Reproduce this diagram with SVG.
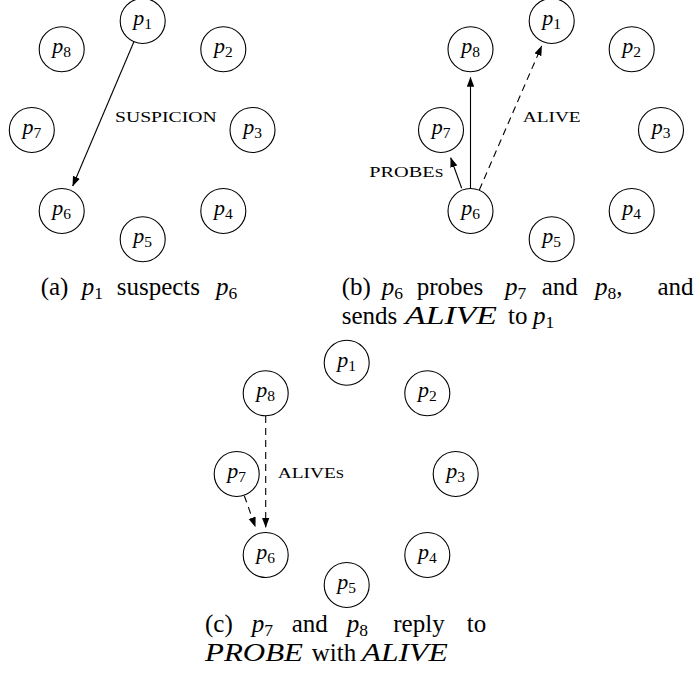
<svg xmlns="http://www.w3.org/2000/svg" width="696" height="680" viewBox="0 0 696 680">
<style>
.nd circle{fill:#fff;stroke:#000;stroke-width:1.1}
.lab{font-family:"Liberation Serif",serif;font-size:22px;fill:#000;text-anchor:middle}
.lab .v{font-style:italic}
.lab .s{font-size:15.5px}
.ed{fill:none;stroke:#000;stroke-width:1.1}
.da{stroke-dasharray:7 5}
.msg{font-family:"Liberation Serif",serif;font-size:15px;fill:#000}
.msg .sc{font-size:11.5px}
.cap{font-family:"Liberation Serif",serif;font-size:25px;fill:#000}
.cap .v,.mi{font-style:italic}
.cap .s{font-size:17.5px;font-style:normal}
</style>
<defs>
<marker id="ah" markerUnits="userSpaceOnUse" markerWidth="10" markerHeight="8" refX="9.5" refY="4" orient="auto" viewBox="0 0 10 8">
<path d="M0,0.3 L10,4 L0,7.7 Z" fill="#000"/>
</marker>
</defs>

<!-- Panel (a) -->
<g id="a-p1" class="nd"><circle cx="142.7" cy="21" r="22.5"/><text class="lab" x="142.7" y="25"><tspan class="v">p</tspan><tspan class="s" dy="4">1</tspan></text></g>
<g id="a-p2" class="nd"><circle cx="223.3" cy="49.3" r="22.5"/><text class="lab" x="223.3" y="53.3"><tspan class="v">p</tspan><tspan class="s" dy="4">2</tspan></text></g>
<g id="a-p3" class="nd"><circle cx="252.5" cy="130" r="22.5"/><text class="lab" x="252.5" y="134"><tspan class="v">p</tspan><tspan class="s" dy="4">3</tspan></text></g>
<g id="a-p4" class="nd"><circle cx="223.3" cy="211" r="22.5"/><text class="lab" x="223.3" y="215"><tspan class="v">p</tspan><tspan class="s" dy="4">4</tspan></text></g>
<g id="a-p5" class="nd"><circle cx="142.7" cy="239.3" r="22.5"/><text class="lab" x="142.7" y="243.3"><tspan class="v">p</tspan><tspan class="s" dy="4">5</tspan></text></g>
<g id="a-p6" class="nd"><circle cx="61.7" cy="211" r="22.5"/><text class="lab" x="61.7" y="215"><tspan class="v">p</tspan><tspan class="s" dy="4">6</tspan></text></g>
<g id="a-p7" class="nd"><circle cx="31.8" cy="130" r="22.5"/><text class="lab" x="31.8" y="134"><tspan class="v">p</tspan><tspan class="s" dy="4">7</tspan></text></g>
<g id="a-p8" class="nd"><circle cx="61.7" cy="49.3" r="22.5"/><text class="lab" x="61.7" y="53.3"><tspan class="v">p</tspan><tspan class="s" dy="4">8</tspan></text></g>

<!-- Panel (b) -->
<g id="b-p1" class="nd"><circle cx="551.7" cy="21" r="22.5"/><text class="lab" x="551.7" y="25"><tspan class="v">p</tspan><tspan class="s" dy="4">1</tspan></text></g>
<g id="b-p2" class="nd"><circle cx="631.7" cy="49.3" r="22.5"/><text class="lab" x="631.7" y="53.3"><tspan class="v">p</tspan><tspan class="s" dy="4">2</tspan></text></g>
<g id="b-p3" class="nd"><circle cx="661" cy="130" r="22.5"/><text class="lab" x="661" y="134"><tspan class="v">p</tspan><tspan class="s" dy="4">3</tspan></text></g>
<g id="b-p4" class="nd"><circle cx="631.7" cy="211" r="22.5"/><text class="lab" x="631.7" y="215"><tspan class="v">p</tspan><tspan class="s" dy="4">4</tspan></text></g>
<g id="b-p5" class="nd"><circle cx="551.7" cy="239.3" r="22.5"/><text class="lab" x="551.7" y="243.3"><tspan class="v">p</tspan><tspan class="s" dy="4">5</tspan></text></g>
<g id="b-p6" class="nd"><circle cx="470.5" cy="211" r="22.5"/><text class="lab" x="470.5" y="215"><tspan class="v">p</tspan><tspan class="s" dy="4">6</tspan></text></g>
<g id="b-p7" class="nd"><circle cx="441" cy="130" r="22.5"/><text class="lab" x="441" y="134"><tspan class="v">p</tspan><tspan class="s" dy="4">7</tspan></text></g>
<g id="b-p8" class="nd"><circle cx="470.5" cy="49.3" r="22.5"/><text class="lab" x="470.5" y="53.3"><tspan class="v">p</tspan><tspan class="s" dy="4">8</tspan></text></g>

<!-- Panel (c) -->
<g id="c-p1" class="nd"><circle cx="346.7" cy="362.7" r="22.5"/><text class="lab" x="346.7" y="366.7"><tspan class="v">p</tspan><tspan class="s" dy="4">1</tspan></text></g>
<g id="c-p2" class="nd"><circle cx="427.3" cy="393.3" r="22.5"/><text class="lab" x="427.3" y="397.3"><tspan class="v">p</tspan><tspan class="s" dy="4">2</tspan></text></g>
<g id="c-p3" class="nd"><circle cx="455.7" cy="474" r="22.5"/><text class="lab" x="455.7" y="478"><tspan class="v">p</tspan><tspan class="s" dy="4">3</tspan></text></g>
<g id="c-p4" class="nd"><circle cx="427.3" cy="555" r="22.5"/><text class="lab" x="427.3" y="559"><tspan class="v">p</tspan><tspan class="s" dy="4">4</tspan></text></g>
<g id="c-p5" class="nd"><circle cx="346.7" cy="585" r="22.5"/><text class="lab" x="346.7" y="589"><tspan class="v">p</tspan><tspan class="s" dy="4">5</tspan></text></g>
<g id="c-p6" class="nd"><circle cx="265.7" cy="555" r="22.5"/><text class="lab" x="265.7" y="559"><tspan class="v">p</tspan><tspan class="s" dy="4">6</tspan></text></g>
<g id="c-p7" class="nd"><circle cx="236.7" cy="474" r="22.5"/><text class="lab" x="236.7" y="478"><tspan class="v">p</tspan><tspan class="s" dy="4">7</tspan></text></g>
<g id="c-p8" class="nd"><circle cx="265.7" cy="393.3" r="22.5"/><text class="lab" x="265.7" y="397.3"><tspan class="v">p</tspan><tspan class="s" dy="4">8</tspan></text></g>

<!-- Connectors -->
<g id="connectors">
<line class="ed" x1="133.9" y1="41.7" x2="72.7" y2="186" marker-end="url(#ah)"/>
<line class="ed" x1="470.5" y1="188.5" x2="470.5" y2="77.3" marker-end="url(#ah)"/>
<line class="ed" x1="461.7" y1="188.3" x2="450.7" y2="157.7" marker-end="url(#ah)"/>
<line class="ed da" x1="479.3" y1="190" x2="541.7" y2="46" marker-end="url(#ah)"/>
<line class="ed da" x1="265.7" y1="416" x2="265.7" y2="527.3" marker-end="url(#ah)"/>
<line class="ed da" x1="244.3" y1="495.7" x2="255.3" y2="526.7" marker-end="url(#ah)"/>
</g>

<!-- Message labels -->
<g id="labels">
<text class="msg" x="115" y="121.7" textLength="101.7" lengthAdjust="spacingAndGlyphs">SUSPICION</text>
<text class="msg" x="522.7" y="121.7" textLength="58" lengthAdjust="spacingAndGlyphs">ALIVE</text>
<text class="msg" x="369.3" y="176.7" textLength="74" lengthAdjust="spacingAndGlyphs">PROBE<tspan class="sc">S</tspan></text>
<text class="msg" x="277.7" y="478.3" textLength="66.3" lengthAdjust="spacingAndGlyphs">ALIVE<tspan class="sc">S</tspan></text>
</g>

<!-- Captions -->
<g id="captions">
<text class="cap" y="295"><tspan x="40.7">(a)</tspan><tspan class="v" x="81.7">p</tspan><tspan class="s" y="299">1</tspan><tspan x="116.7" y="295">suspects</tspan><tspan class="v" x="216">p</tspan><tspan class="s" y="299">6</tspan></text>

<text class="cap" y="295"><tspan x="341.7">(b)</tspan><tspan class="v" x="381.7">p</tspan><tspan class="s" y="299">6</tspan><tspan x="416.7" y="295">probes</tspan><tspan class="v" x="505">p</tspan><tspan class="s" y="299">7</tspan><tspan x="541.7" y="295">and</tspan><tspan class="v" x="595">p</tspan><tspan class="s" y="299">8</tspan><tspan y="295">,</tspan><tspan x="657.5" y="295">and</tspan></text>
<text class="cap" y="324"><tspan x="341.7">sends</tspan><tspan x="508">to</tspan><tspan class="v" x="533">p</tspan><tspan class="s" y="328">1</tspan></text>
<text class="cap mi" x="405" y="324" textLength="92" lengthAdjust="spacingAndGlyphs">ALIVE</text>

<text class="cap" y="632"><tspan x="205">(c)</tspan><tspan class="v" x="251.7">p</tspan><tspan class="s" y="636">7</tspan><tspan x="291.7" y="632">and</tspan><tspan class="v" x="346.7">p</tspan><tspan class="s" y="636">8</tspan><tspan x="393.3" y="632">reply</tspan><tspan x="466.7">to</tspan></text>
<text class="cap" y="661"><tspan x="311.7">with</tspan></text>
<text class="cap mi" x="205" y="661" textLength="98" lengthAdjust="spacingAndGlyphs">PROBE</text>
<text class="cap mi" x="361.7" y="661" textLength="86" lengthAdjust="spacingAndGlyphs">ALIVE</text>
</g>
</svg>
